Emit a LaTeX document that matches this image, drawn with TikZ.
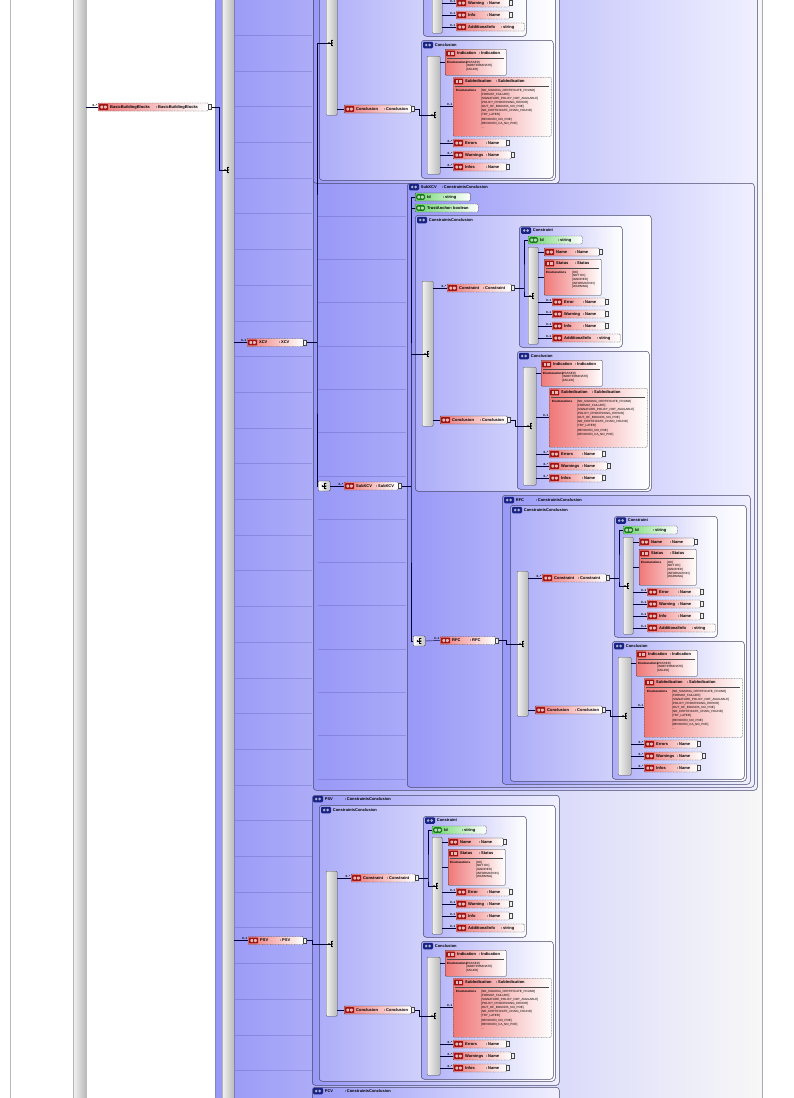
\documentclass[tikz,border=0pt]{standalone}
\usepackage{fontspec}
\setmainfont{Liberation Sans}
\usetikzlibrary{positioning}

\definecolor{cblue}{RGB}{152,152,247}
\definecolor{eleft}{RGB}{240,120,120}
\definecolor{eicon}{RGB}{160,20,20}
\definecolor{aleft}{RGB}{110,215,110}
\definecolor{aicon}{RGB}{25,125,25}
\definecolor{ticon}{RGB}{25,35,130}
\definecolor{edge}{RGB}{70,70,105}

\newcommand{\nf}{\fontsize{4}{4.6}\selectfont\bfseries}
\newcommand{\ef}{\fontsize{3}{3.6}\selectfont}
\newcommand{\nt}[3]{\hspace*{12pt}\makebox[#1pt][l]{#2}:\,#3}
\newcommand{\tb}[1]{\filldraw[tabst] ([yshift=2.4pt]#1.east) rectangle ([shift={(2.6pt,-2.4pt)}]#1.east);}
\newcommand{\ml}[3]{\node[mult] (#1) at ([shift={(-0.6pt,0.6pt)}]#2.west) {#3};}

\newcommand{\conblock}[3]{%
\begin{scope}[shift={(#2,#3)}]
\node[ctbox, minimum width=103pt, minimum height=121pt] (#1) at (0,0) {};
\node[ticn] (#1-hi) at (7,4.5) {};
\node[htxt, right=1.5pt of #1-hi] (#1-ht) {Constraint};
\node[abox=54, opt] (#1-id) at (9,14) {\nt{18}{Id}{string}};
\node[bar, minimum width=10pt, minimum height=97pt] (#1-bar) at (9,21) {};
\coordinate (#1-seq) at (11,70);
\coordinate (#1-in) at (5,62);
\node[ebox=55] (#1-name) at (25,26) {\nt{19}{Name}{Name}};
\node[enbox, minimum width=57pt, minimum height=36pt] (#1-st) at (25,33) {};
\node[ehead=57] (#1-sth) at (25,37.5) {\nt{19}{Status}{Status}};
\draw[sepl] ([shift={(2pt,-9pt)}]#1-st.north west) -- ([shift={(-2pt,-9pt)}]#1-st.north east);
\node[enlab] (#1-stl) at (27,45) {Enumerations};
\node[enval] (#1-stv) at (53,45) {[OK]\\{[NOT OK]}\\{[IGNORED]}\\{[INFORMATION]}\\{[WARNING]}};
\node[ebox=53, opt] (#1-err) at (33,76) {\nt{19}{Error}{Name}};
\node[ebox=53, opt] (#1-warn) at (33,88) {\nt{19}{Warning}{Name}};
\node[ebox=53, opt] (#1-inf) at (33,100) {\nt{19}{Info}{Name}};
\node[ebox=68, opt] (#1-add) at (33,112) {\nt{33}{AdditionalInfo}{string}};
\ml{#1-m1}{#1-err}{0..1}
\ml{#1-m2}{#1-warn}{0..1}
\ml{#1-m3}{#1-inf}{0..1}
\ml{#1-m4}{#1-add}{0..1}
\draw[conn] (#1-id.west) -| (#1-in) |- (#1-seq);
\foreach \n in {name,st,err,warn,inf,add}
  \draw[conn] (#1-bar.east |- #1-\n.west) -- (#1-\n.west);
\pic at (#1-seq) {seqsym};
\tb{#1-name}\tb{#1-err}\tb{#1-warn}\tb{#1-inf}
\end{scope}}

\newcommand{\cclblock}[3]{%
\begin{scope}[shift={(#2,#3)}]
\node[ctbox, minimum width=132pt, minimum height=138pt] (#1) at (0,0) {};
\node[ticn] (#1-hi) at (7,5) {};
\node[htxt, right=1.5pt of #1-hi] (#1-ht) {Conclusion};
\node[bar, minimum width=13pt, minimum height=118pt] (#1-bar) at (6,16) {};
\coordinate (#1-seq) at (11,75);
\coordinate (#1-in) at (-2,69);
\node[enbox, minimum width=61pt, minimum height=26pt] (#1-ind) at (24,9) {};
\node[ehead=61] (#1-indh) at (24,13.5) {\nt{22}{Indication}{Indication}};
\draw[sepl] ([shift={(2pt,-9pt)}]#1-ind.north west) -- ([shift={(-2pt,-9pt)}]#1-ind.north east);
\node[enlab] (#1-indl) at (26,21) {Enumerations};
\node[enval] (#1-indv) at (45,21) {[PASSED]\\{[INDETERMINATE]}\\{[FAILED]}};
\node[enbox, opt, minimum width=98pt, minimum height=59pt] (#1-sub) at (32,37) {};
\node[ehead=98] (#1-subh) at (32,41.5) {\nt{31}{SubIndication}{SubIndication}};
\draw[sepl] ([shift={(2pt,-9pt)}]#1-sub.north west) -- ([shift={(-2pt,-9pt)}]#1-sub.north east);
\node[enlab] (#1-subl) at (35,49) {Enumerations};
\node[enval, font=\fontsize{3}{4.1}\selectfont] (#1-subv) at (60,49) {[NO\_SIGNING\_CERTIFICATE\_FOUND]\\{[FORMAT\_FAILURE]}\\{[SIGNATURE\_POLICY\_NOT\_AVAILABLE]}\\{[POLICY\_PROCESSING\_ERROR]}\\{[OUT\_OF\_BOUNDS\_NO\_POE]}\\{[NO\_CERTIFICATE\_CHAIN\_FOUND]}\\{[TRY\_LATER]}\\{[REVOKED\_NO\_POE]}\\{[REVOKED\_CA\_NO\_POE]}\\{...}};
\node[ebox=53, opt] (#1-err) at (32,103) {\nt{21}{Errors}{Name}};
\node[ebox=58, opt] (#1-warn) at (32,115) {\nt{21}{Warnings}{Name}};
\node[ebox=53, opt] (#1-inf) at (32,127) {\nt{21}{Infos}{Name}};
\ml{#1-m1}{#1-sub}{0..1}
\ml{#1-m2}{#1-err}{0..*}
\ml{#1-m3}{#1-warn}{0..*}
\ml{#1-m4}{#1-inf}{0..*}
\draw[conn] (#1-in) |- (#1-seq);
\foreach \n in {ind,sub,err,warn,inf}
  \draw[conn] (#1-bar.east |- #1-\n.west) -- (#1-\n.west);
\pic at (#1-seq) {seqsym};
\tb{#1-err}\tb{#1-warn}\tb{#1-inf}
\end{scope}}

\newcommand{\ccblock}[3]{%
\begin{scope}[shift={(#2,#3)}]
\node[ctbox, minimum width=236pt, minimum height=276pt] (#1) at (0,0) {};
\node[ticn] (#1-hi) at (7,5) {};
\node[htxt, right=1.5pt of #1-hi] (#1-ht) {ConstraintsConclusion};
\node[bar, minimum width=11pt, minimum height=145pt] (#1-bar) at (7,66) {};
\coordinate (#1-seq) at (10,139);
\node[ebox=64, opt] (#1-cn) at (32,73) {\nt{24}{Constraint}{Constraint}};
\node[ebox=67] (#1-cl) at (25,205) {\nt{28}{Conclusion}{Conclusion}};
\ml{#1-m1}{#1-cn}{0..*}
\conblock{#1-k}{104}{11}
\cclblock{#1-c}{102}{136}
\draw[conn] (#1-bar.east |- #1-cn.west) -- (#1-cn.west);
\draw[conn] (#1-bar.east |- #1-cl.west) -- (#1-cl.west);
\draw[conn] (#1-cn.east) -- (#1-cn.east -| #1-k-in);
\draw[conn] (#1-cl.east) -- (#1-c-in);
\pic at (#1-seq) {seqsym};
\tb{#1-cn}\tb{#1-cl}
\end{scope}}

\begin{document}
\begin{tikzpicture}[x=1pt, y=-1pt,
  conn/.style={draw=black!80!blue, line width=0.45pt},
  opt/.style={dash pattern=on 0.9pt off 0.7pt},
  tabst/.style={fill=gray!12, draw=gray!55!black, line width=0.3pt},
  mult/.style={font=\fontsize{3}{3}\selectfont\bfseries, inner sep=0pt, anchor=south east},
  bar/.style={draw=gray!55!black, line width=0.35pt, left color=gray!10, right color=gray!55, rounded corners=1pt, anchor=north west, inner sep=0pt},
  outbox/.style={draw=edge!70, line width=0.5pt, rounded corners=3pt, left color=cblue, right color=gray!6, middle color=cblue!45!white, anchor=north west, inner sep=0pt},
  tybox/.style={draw=edge, line width=0.5pt, rounded corners=3pt, left color=cblue, right color=white!94!blue, anchor=north west, inner sep=0pt},
  ctbox/.style={draw=edge, line width=0.5pt, rounded corners=3pt, left color=cblue!80!white, right color=white, anchor=north west, inner sep=0pt},
  eicn/.style={path picture={
    \fill[eicon, rounded corners=0.5pt] ([shift={(1pt,-1.2pt)}]path picture bounding box.north west) rectangle ([shift={(10pt,1.2pt)}]path picture bounding box.south west);
    \fill[white!70!eicon] ([shift={(2.3pt,-2.5pt)}]path picture bounding box.north west) rectangle ++(2.6pt,-3pt);
    \fill[white!70!eicon] ([shift={(6pt,-2.5pt)}]path picture bounding box.north west) rectangle ++(2.6pt,-3pt);}},
  aicn/.style={path picture={
    \fill[aicon, rounded corners=1.5pt] ([shift={(1pt,-1.2pt)}]path picture bounding box.north west) rectangle ([shift={(10pt,1.2pt)}]path picture bounding box.south west);
    \fill[white!70!aicon] ([shift={(2.3pt,-2.5pt)}]path picture bounding box.north west) rectangle ++(2.6pt,-3pt);
    \fill[white!70!aicon] ([shift={(6pt,-2.5pt)}]path picture bounding box.north west) rectangle ++(2.6pt,-3pt);}},
  ebox/.style={eicn, rectangle, draw=black!80, line width=0.35pt, rounded corners=0.8pt, left color=eleft, right color=white, inner sep=0pt, minimum height=8pt, anchor=west, align=left, font=\nf, text width=#1pt},
  abox/.style={aicn, rectangle, draw=black!80, line width=0.35pt, rounded corners=0.8pt, left color=aleft, right color=white, inner sep=0pt, minimum height=8pt, anchor=west, align=left, font=\nf, text width=#1pt},
  ehead/.style={eicn, inner sep=0pt, minimum height=8pt, anchor=west, align=left, font=\nf, text width=#1pt},
  enbox/.style={draw=black!80, line width=0.35pt, rounded corners=0.8pt, left color=eleft, right color=white, anchor=north west, inner sep=0pt},
  enlab/.style={font=\ef\bfseries, inner sep=0pt, anchor=north west},
  enval/.style={font=\ef, inner sep=0pt, anchor=north west, align=left},
  sepl/.style={draw=black!70, line width=0.3pt},
  ticn/.style={fill=ticon, rounded corners=1.2pt, minimum width=10pt, minimum height=6.5pt, inner sep=0pt, path picture={
    \fill[white!65!ticon] ([shift={(2pt,-1.8pt)}]path picture bounding box.north west) rectangle ++(2.4pt,-2.9pt);
    \fill[white!65!ticon] ([shift={(5.4pt,-1.8pt)}]path picture bounding box.north west) rectangle ++(2.4pt,-2.9pt);}},
  htxt/.style={font=\nf, inner sep=0pt, anchor=west},
  cbox/.style={draw=gray!45!black, line width=0.35pt, left color=white, right color=gray!45, rounded corners=1pt, minimum width=12pt, minimum height=10pt, inner sep=0pt, anchor=west},
  gridl/.style={draw=blue!40!black, opacity=0.15, line width=0.5pt},
  seqsym/.pic={
    \fill[black] (0,0) circle (0.8pt);
    \draw[black, line width=0.5pt] (0,0) -- (1.8pt,0) (1.8pt,-2.6pt) -- (1.8pt,2.6pt)
      (1.8pt,-2.6pt) -- (3.2pt,-2.6pt) (1.8pt,0) -- (3.2pt,0) (1.8pt,2.6pt) -- (3.2pt,2.6pt);
    \fill[black] (3.4pt,-2.6pt) circle (0.7pt) (3.4pt,0) circle (0.7pt) (3.4pt,2.6pt) circle (0.7pt);}]

\useasboundingbox (0,0) rectangle (793,1098);
\fill[white] (0,0) rectangle (793,1098);
\draw[gray!55, line width=0.6pt] (10,-5) -- (10,1105);
\node[bar, minimum width=13pt, minimum height=1120pt] (bar0) at (73,-10) {};

\node[outbox, minimum width=547pt, minimum height=1130pt] (c-bbb) at (215,-10) {};
\foreach \k in {1,...,30}
  \draw[gridl] (235,35.7*\k-0.5) -- (312,35.7*\k-0.5);
\node[bar, minimum width=12pt, minimum height=1120pt] (bar1) at (222,-10) {};
\coordinate (b-seq) at (225,170);

\node[tybox, minimum width=444pt, minimum height=800pt] (c-xcv) at (313,-10) {};
\foreach \k in {0,...,13}
  \draw[gridl] (318,216+43.3*\k) -- (406,216+43.3*\k);
\node[tybox, minimum width=246pt, minimum height=283pt] (c-top) at (313,-100) {};
\ccblock{t}{319}{-96}

\node[tybox, minimum width=347pt, minimum height=604pt] (c-sub) at (407,183) {};
\node[ticn] (h-sub) at (414,187) {};
\node[htxt, right=1.5pt of h-sub] (h-subt) {\makebox[21pt][l]{SubXCV}:\,ConstraintsConclusion};
\node[abox=55] (a-id) at (415,197) {\nt{16}{Id}{string}};
\node[abox=63, opt] (a-ta) at (415,208) {\nt{24}{TrustAnchor}{boolean}};
\ccblock{s}{415}{215}

\node[tybox, minimum width=248pt, minimum height=289pt] (c-rfc) at (502,495) {};
\node[ticn] (h-rfc) at (509,500) {};
\node[htxt, right=1.5pt of h-rfc] (h-rfct) {\makebox[20pt][l]{RFC}:\,ConstraintsConclusion};
\ccblock{r}{510}{505}

\node[tybox, minimum width=247pt, minimum height=290pt] (c-psv) at (312,795) {};
\node[ticn] (h-psv) at (318,799) {};
\node[htxt, right=1.5pt of h-psv] (h-psvt) {\makebox[20pt][l]{PSV}:\,ConstraintsConclusion};
\ccblock{p}{319}{805}

\node[tybox, minimum width=247pt, minimum height=40pt] (c-pcv) at (312,1087) {};
\node[ticn] (h-pcv) at (318,1091) {};
\node[htxt, right=1.5pt of h-pcv] (h-pcvt) {\makebox[20pt][l]{PCV}:\,ConstraintsConclusion};

\node[ebox=110, opt] (n-bbb) at (98,107) {\nt{46}{BasicBuildingBlocks}{BasicBuildingBlocks}};
\node[ebox=56, opt] (n-xcv) at (247,342.5) {\nt{20}{XCV}{XCV}};
\node[ebox=55, opt] (n-psv) at (248,940.5) {\nt{20}{PSV}{PSV}};
\node[cbox] (i-sub) at (318,486) {};
\node[ebox=54, opt] (n-sub) at (344,486) {\nt{20}{SubXCV}{SubXCV}};
\node[cbox] (i-rfc) at (413,641) {};
\node[ebox=55, opt] (n-rfc) at (440,640.5) {\nt{18}{RFC}{RFC}};
\ml{m-bbb}{n-bbb}{0..*}
\ml{m-xcv}{n-xcv}{0..1}
\ml{m-psv}{n-psv}{0..1}
\ml{m-sub}{n-sub}{0..*}
\ml{m-rfc}{n-rfc}{0..1}

\coordinate (bj) at (219,107);
\coordinate (xj) at (317,342.5);
\coordinate (sj) at (411,486);
\coordinate (rj) at (506,640.5);
\coordinate (pj) at (312,940.5);

\draw[conn] (bar0.east |- n-bbb.west) -- (n-bbb.west);
\draw[conn] (n-bbb.east) -- (bj) |- (b-seq);
\draw[conn] (bar1.east |- n-xcv.west) -- (n-xcv.west);
\draw[conn] (bar1.east |- n-psv.west) -- (n-psv.west);
\draw[conn] (n-xcv.east) -- (xj);
\draw[conn] (t-seq) -| (xj) |- (i-sub.west);
\draw[conn] (i-sub.east) -- (n-sub.west);
\draw[conn] (n-sub.east) -- (sj);
\draw[conn] (a-id.west) -| (sj) |- (i-rfc.west);
\draw[conn] (a-ta.west) -- (a-ta.west -| sj);
\draw[conn] (s-seq) -- (s-seq -| sj);
\draw[conn] (i-rfc.east) -- (n-rfc.west);
\draw[conn] (n-rfc.east) -- (rj) |- (r-seq);
\draw[conn] (n-psv.east) -- (pj) |- (p-seq);
\pic at (b-seq) {seqsym};
\pic at ([xshift=-1.7pt]i-sub.center) {seqsym};
\pic at ([xshift=-1.7pt]i-rfc.center) {seqsym};
\tb{n-bbb}\tb{n-xcv}\tb{n-psv}\tb{n-sub}\tb{n-rfc}
\end{tikzpicture}
\end{document}
